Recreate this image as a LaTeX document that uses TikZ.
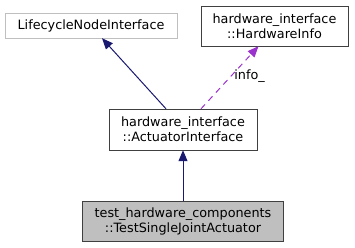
\documentclass[tikz,border=0pt]{standalone}
\usepackage{fontspec}
\setmainfont{DejaVu Sans}
\usetikzlibrary{arrows.meta}
\definecolor{edgeblue}{HTML}{191970}
\definecolor{edgepurple}{HTML}{9A32CD}
\definecolor{boxgrey}{HTML}{404040}
\tikzset{
  classfont/.style={font=\fontsize{12.8}{15}\selectfont},
  classbox/.style={draw=boxgrey, fill=white, align=center, inner sep=0pt, classfont},
  inherit/.style={draw=edgeblue, line width=1pt, -{Triangle[length=11pt,width=9pt]}},
  usage/.style={draw=edgepurple, line width=1pt, dash pattern=on 6pt off 5pt, -{Triangle[length=11pt,width=9pt]}}
}
\begin{document}
\begin{tikzpicture}[x=1pt, y=-1pt]
			%%%%% START %%%%%
			\useasboundingbox (0, 0) rectangle (355, 247);
			
			\node[classbox, draw=black!25, minimum width=172pt, minimum height=25pt] (lifecycle) at (91, 25.5) {LifecycleNodeInterface};
			\node[classbox, minimum width=147pt, minimum height=40pt] (hwinfo) at (274.5, 26) {hardware\_interface\\::HardwareInfo};
			
			\node[classbox, minimum width=148pt, minimum height=41pt] (actuator) at (183, 129.5) {hardware\_interface\\::ActuatorInterface};
			
			\node[classbox, fill=black!25, minimum width=201pt, minimum height=40pt] (testjoint) at (183, 221) {test\_hardware\_components\\::TestSingleJointActuator};
			
			\draw[inherit] ([xshift=-17pt]actuator.north) -- ([xshift=11pt]lifecycle.south);
			\draw[usage] ([xshift=18pt]actuator.north) -- node[right, classfont, inner sep=3pt, pos=0.52] {info\_} ([xshift=-16pt]hwinfo.south);
			\draw[inherit] (testjoint) -- (actuator);
			
			%%%%% END %%%%%
\end{tikzpicture}
\end{document}
